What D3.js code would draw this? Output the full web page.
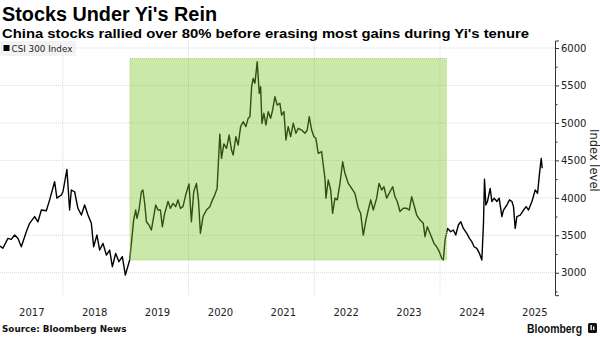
<!DOCTYPE html>
<html>
<head>
<meta charset="utf-8">
<script src="https://cdn.jsdelivr.net/npm/d3@7"></script>
<style>
  html, body { margin: 0; padding: 0; background: #fff; }
  svg { display: block; }
</style>
</head>
<body>
<div id="chart"></div>
<script>
// ---- Data ----
const seriesName = "CSI 300 Index";
const dates = [
  2017.000, 2017.046, 2017.126, 2017.180, 2017.232, 2017.285, 2017.339, 2017.419, 2017.471, 2017.551,
  2017.604, 2017.658, 2017.737, 2017.790, 2017.869, 2017.906, 2017.976, 2018.002, 2018.065, 2018.108,
  2018.135, 2018.188, 2018.240, 2018.295, 2018.347, 2018.400, 2018.454, 2018.490, 2018.543, 2018.586,
  2018.639, 2018.693, 2018.745, 2018.788, 2018.841, 2018.893, 2018.947, 2018.995, 2019.064, 2019.091,
  2019.127, 2019.159, 2019.180, 2019.212, 2019.250, 2019.275, 2019.303, 2019.330, 2019.371, 2019.409,
  2019.446, 2019.478, 2019.514, 2019.553, 2019.584, 2019.621, 2019.674, 2019.712, 2019.753, 2019.796,
  2019.833, 2019.871, 2019.912, 2019.955, 2020.008, 2020.046, 2020.083, 2020.126, 2020.158, 2020.189,
  2020.231, 2020.285, 2020.338, 2020.381, 2020.417, 2020.454, 2020.497, 2020.524, 2020.561, 2020.604,
  2020.645, 2020.683, 2020.709, 2020.752, 2020.788, 2020.827, 2020.868, 2020.911, 2020.947, 2020.975,
  2021.002, 2021.027, 2021.054, 2021.091, 2021.123, 2021.145, 2021.166, 2021.197, 2021.229, 2021.266,
  2021.304, 2021.336, 2021.373, 2021.409, 2021.452, 2021.479, 2021.516, 2021.548, 2021.584, 2021.623,
  2021.664, 2021.707, 2021.744, 2021.798, 2021.850, 2021.887, 2021.919, 2021.957, 2021.994, 2022.025,
  2022.062, 2022.116, 2022.142, 2022.169, 2022.185, 2022.221, 2022.260, 2022.291, 2022.328, 2022.365,
  2022.408, 2022.451, 2022.487, 2022.540, 2022.594, 2022.646, 2022.699, 2022.737, 2022.779, 2022.822,
  2022.858, 2022.897, 2022.938, 2022.992, 2023.029, 2023.072, 2023.108, 2023.151, 2023.204, 2023.247,
  2023.283, 2023.320, 2023.363, 2023.416, 2023.470, 2023.511, 2023.549, 2023.586, 2023.629, 2023.682,
  2023.734, 2023.761, 2023.798, 2023.852, 2023.904, 2023.947, 2023.989, 2024.027, 2024.053, 2024.080,
  2024.120, 2024.170, 2024.212, 2024.250, 2024.291, 2024.330, 2024.371, 2024.425, 2024.467, 2024.505,
  2024.541, 2024.584, 2024.626, 2024.664, 2024.690, 2024.706, 2024.728, 2024.753, 2024.796, 2024.823,
  2024.860, 2024.903, 2024.939, 2024.982, 2025.008, 2025.062, 2025.104, 2025.142, 2025.167, 2025.194,
  2025.221, 2025.274, 2025.326, 2025.369, 2025.406, 2025.460, 2025.513, 2025.550, 2025.581, 2025.608,
  2025.624
];
const values = [
  3357, 3326, 3459, 3446, 3503, 3459, 3347, 3547, 3659, 3750,
  3680, 3837, 3828, 3973, 4215, 3996, 4037, 4081, 4380, 3837,
  4104, 4081, 3860, 3770, 3904, 3770, 3659, 3347, 3503, 3303,
  3392, 3236, 3303, 3080, 3258, 3147, 3214, 2969, 3170, 3392,
  3703, 3837, 3726, 3837, 4081, 4104, 3926, 3680, 3637, 3570,
  3750, 3904, 3837, 3837, 3614, 3792, 3951, 3860, 3926, 3882,
  3973, 3860, 3882, 4037, 4185, 3680, 4081, 4193, 3973, 3527,
  3750, 3837, 3882, 3973, 4037, 4126, 4850, 4527, 4720, 4661,
  4838, 4638, 4572, 4816, 4705, 4950, 5016, 4950, 5061, 5083,
  5483, 5594, 5528, 5817, 5395, 5483, 4995, 5128, 4972, 5150,
  5061, 5172, 5350, 5239, 5261, 5105, 5150, 4772, 4950, 4816,
  4995, 4861, 4928, 4905, 4861, 4905, 5083, 4905, 4816, 4794,
  4594, 4616, 4438, 4260, 3996, 4238, 4104, 3793, 3996, 3973,
  4193, 4481, 4327, 4193, 4126, 4060, 3860, 3793, 3503, 3703,
  3837, 3973, 3837, 3996, 4193, 4104, 4148, 3996, 4081, 4148,
  4015, 3951, 3817, 3860, 3860, 3837, 4015, 3904, 3770, 3703,
  3659, 3481, 3614, 3503, 3392, 3347, 3281, 3192, 3170, 3436,
  3592, 3547, 3570, 3503, 3637, 3681, 3592, 3526, 3459, 3414,
  3347, 3326, 3258, 3170, 3659, 4247, 3904, 3951, 4126, 3951,
  3996, 3951, 3996, 3750, 3837, 3904, 3973, 3951, 3882, 3592,
  3750, 3770, 3837, 3882, 3837, 3951, 4104, 4060, 4327, 4527,
  4394
];
// Yi's tenure shading (dates and index range of the box)
const tenureDates = ["2019-01-26", "2024-02-07"];
const tenureRange = [3170, 5860];
// Axis ticks / labels
const yMajorTicks = [3000, 3500, 4000, 4500, 5000, 5500, 6000];
const yMinorTicks = [2750, 3250, 3750, 4250, 4750, 5250, 5750];
const yearLabels = ["2017", "2018", "2019", "2020", "2021", "2022", "2023", "2024", "2025"];
const gridYears = [2018, 2020, 2022, 2024];
const yDomain = [2700, 6100];
const xDomain = ["2017-01-01", "2025-10-30"];

// ---- Helpers ----
function decToDate(d) {
  const y = Math.floor(d);
  const s = new Date(y, 0, 1), e = new Date(y + 1, 0, 1);
  return new Date(+s + (d - y) * (e - s));
}
const parse = d3.timeParse("%Y-%m-%d");
const data = dates.map((d, i) => ({ date: decToDate(d), value: values[i] }));

// ---- Layout ----
const W = 600, H = 337;
const plot = { left: 0, right: 555, top: 40.5, bottom: 295.2 };

const svg = d3.select("#chart").append("svg").attr("width", W).attr("height", H)
  .style("font-family", "'DejaVu Sans', Verdana, sans-serif");

const x = d3.scaleTime().domain(xDomain.map(parse)).range([plot.left, plot.right]);
const y = d3.scaleLinear().domain(yDomain).range([plot.bottom, plot.top]);

// Title & subtitle
svg.append("text").attr("x", 2).attr("y", 21)
  .attr("font-family", "'Liberation Sans', Arial, sans-serif")
  .attr("font-weight", "bold").attr("font-size", 20).attr("fill", "#000")
  .attr("textLength", 215).attr("lengthAdjust", "spacingAndGlyphs")
  .text("Stocks Under Yi's Rein");
svg.append("text").attr("x", 2).attr("y", 38)
  .attr("font-family", "'Liberation Sans', Arial, sans-serif")
  .attr("font-weight", "bold").attr("font-size", 13.5).attr("fill", "#000")
  .attr("textLength", 527).attr("lengthAdjust", "spacingAndGlyphs")
  .text("China stocks rallied over 80% before erasing most gains during Yi's tenure");

// Gridlines
const grid = svg.append("g");
grid.selectAll("line.h").data(yMajorTicks).join("line")
  .attr("x1", plot.left).attr("x2", plot.right)
  .attr("y1", d => y(d)).attr("y2", d => y(d))
  .attr("stroke", "#d9d9d9").attr("stroke-width", 1).attr("stroke-dasharray", "1,1");
grid.selectAll("line.v").data(gridYears).join("line")
  .attr("x1", d => x(new Date(d, 0, 1))).attr("x2", d => x(new Date(d, 0, 1)))
  .attr("y1", plot.top).attr("y2", plot.bottom)
  .attr("stroke", "#d9d9d9").attr("stroke-width", 1).attr("stroke-dasharray", "1,1");

// Legend
svg.append("rect").attr("x", 0).attr("y", 41).attr("width", 76).attr("height", 15).attr("fill", "#f2f2f2");
svg.append("rect").attr("x", 3.5).attr("y", 45).attr("width", 6).attr("height", 6).attr("fill", "#000");
svg.append("text").attr("x", 11.5).attr("y", 51.5).attr("font-size", 8.8).attr("fill", "#222")
  .text(seriesName);

// Line
const line = d3.line().x(d => x(d.date)).y(d => y(d.value));
svg.append("path").datum(data).attr("d", line)
  .attr("fill", "none").attr("stroke", "#000").attr("stroke-width", 1.4)
  .attr("stroke-linejoin", "round");

// Tenure box (semi-transparent overlay)
const bx0 = x(parse(tenureDates[0])), bx1 = x(parse(tenureDates[1]));
const by0 = y(tenureRange[1]), by1 = y(tenureRange[0]);
svg.append("rect").attr("x", bx0).attr("y", by0).attr("width", bx1 - bx0).attr("height", by1 - by0)
  .attr("fill", "rgb(122,200,40)").attr("fill-opacity", 0.4);
svg.append("rect").attr("x", bx0).attr("y", by0).attr("width", bx1 - bx0).attr("height", by1 - by0)
  .attr("fill", "none").attr("stroke", "#a3d46a").attr("stroke-width", 1).attr("stroke-dasharray", "1,1");

// Right axis
const yAxis = svg.append("g").attr("transform", `translate(${plot.right},0)`)
  .call(d3.axisRight(y).tickValues(yMajorTicks).tickSize(4).tickPadding(2).tickFormat(d3.format("d")));
yAxis.select(".domain").attr("stroke", "#333");
yAxis.selectAll(".tick line").attr("stroke", "#333");
yAxis.selectAll(".tick text").attr("font-family", "'DejaVu Sans', Verdana, sans-serif")
  .attr("font-size", 10).attr("fill", "#222");
const yMinor = svg.append("g").attr("transform", `translate(${plot.right},0)`)
  .call(d3.axisRight(y).tickValues(yMinorTicks).tickSize(2.5).tickFormat(""));
yMinor.select(".domain").remove();
yMinor.selectAll(".tick line").attr("stroke", "#333");

svg.append("text")
  .attr("transform", `translate(590,${(y(5000) + y(4000)) / 2}) rotate(90)`)
  .attr("text-anchor", "middle").attr("font-size", 11.5).attr("fill", "#222")
  .text("Index level");

// Bottom axis labels (mid-year)
const xAxis = svg.append("g").attr("transform", `translate(0,${plot.bottom + 2})`)
  .call(d3.axisBottom(x).tickValues(yearLabels.map(s => new Date(+s, 6, 2)))
    .tickSize(0).tickPadding(12).tickFormat(d3.timeFormat("%Y")));
xAxis.select(".domain").remove();
xAxis.selectAll(".tick text").attr("font-family", "'DejaVu Sans', Verdana, sans-serif")
  .attr("font-size", 10).attr("fill", "#222");

// Footer
svg.append("text").attr("x", 2).attr("y", 332)
  .attr("font-weight", "bold").attr("font-size", 8.8).attr("fill", "#111")
  .text("Source: Bloomberg News");
svg.append("text").attr("x", 582).attr("y", 333).attr("text-anchor", "end")
  .attr("font-family", "'Liberation Sans', Arial, sans-serif")
  .attr("font-size", 13).attr("font-weight", "bold").attr("fill", "#111")
  .attr("textLength", 55).attr("lengthAdjust", "spacingAndGlyphs")
  .text("Bloomberg");
svg.append("rect").attr("x", 588).attr("y", 323).attr("width", 9).attr("height", 10)
  .attr("rx", 1.5).attr("fill", "#111");
svg.append("rect").attr("x", 590.5).attr("y", 325).attr("width", 1.3).attr("height", 5).attr("fill", "#fff");
svg.append("rect").attr("x", 593).attr("y", 326.5).attr("width", 1.3).attr("height", 3.5).attr("fill", "#fff");
</script>
</body>
</html>
